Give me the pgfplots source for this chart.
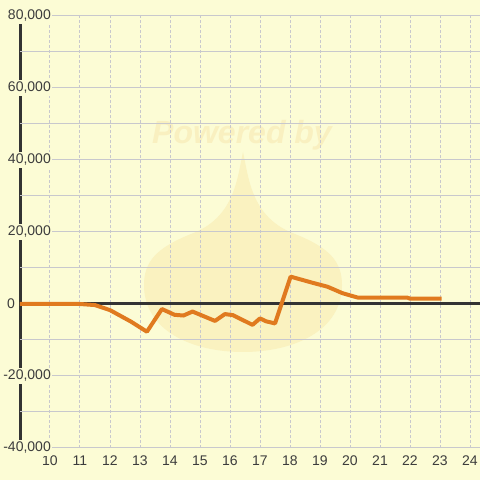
\documentclass[border=0pt]{standalone}
\usepackage{fontspec}
\setmainfont{Liberation Sans}
\usepackage{pgfplots}
\pgfplotsset{compat=1.18}
\definecolor{bg}{RGB}{252,252,213}
\definecolor{wm}{RGB}{250,242,192}
\definecolor{wmtext}{RGB}{249,240,192}
\definecolor{gridc}{RGB}{200,200,205}
\definecolor{axc}{RGB}{51,51,51}
\definecolor{txt}{RGB}{60,60,60}
\definecolor{orng}{RGB}{224,122,31}
\newcommand{\tf}{\fontsize{14}{16}\selectfont}
\begin{document}
\begin{tikzpicture}[x=1pt,y=1pt]
\fill[bg] (0,0) rectangle (480,480);
\useasboundingbox (0,0) rectangle (480,480);
\fill[wm] (243,328) .. controls (249,300) and (252,262) .. (295,246) .. controls (330,232) and (342,218) .. (342,195) .. controls (342,150) and (295,128) .. (243,128) .. controls (191,128) and (144,150) .. (144,195) .. controls (144,218) and (156,232) .. (191,246) .. controls (234,262) and (237,300) .. (243,328) -- cycle;
\node[font=\bfseries\itshape\fontsize{32}{34}\selectfont, text=wmtext] at (242,345) {Powered by};
\draw[axc, line width=3pt] (20,32) -- (20,464);
\begin{axis}[
  scale only axis, width=460pt, height=432pt,
  at={(20pt,32pt)}, anchor=south west,
  xmin=9, xmax=24.3333, ymin=-40000, ymax=80000,
  axis line style={draw=none},
  major tick length=0pt, minor tick length=0pt,
  scaled y ticks=false,
  xtick={10,11,12,13,14,15,16,17,18,19,20,21,22,23,24},
  xticklabels={{\tf 10},{\tf 11},{\tf 12},{\tf 13},{\tf 14},{\tf 15},{\tf 16},{\tf 17},{\tf 18},{\tf 19},{\tf 20},{\tf 21},{\tf 22},{\tf 23},{\tf 24}},
  ytick={-40000,-20000,20000,40000,60000,80000},
  yticklabels={{\tf -40,000},{\tf -20,000},{\tf 20,000},{\tf 40,000},{\tf 60,000},{\tf 80,000}},
  extra y ticks={0}, extra y tick labels={{\tf 0}},
  extra y tick style={yticklabel style={xshift=-36pt, fill=none}},
  minor ytick={-30000,-10000,10000,30000,50000,70000},
  xmajorgrids, ymajorgrids, yminorgrids,
  x grid style={gridc, line width=1pt, dash pattern=on 3pt off 2pt},
  y grid style={gridc, line width=1pt, solid},
  minor grid style={gridc, line width=1pt, solid},
  every tick label/.append style={text=txt},
  yticklabel style={anchor=east, inner xsep=1pt, inner ysep=2pt, fill=bg, xshift=32pt},
  xticklabel style={anchor=north, inner sep=0pt, yshift=-8pt},
]
\addplot[axc, line width=3pt, forget plot] coordinates {(9,0) (24.3333,0)};
\addplot[orng, line width=4pt, line join=round, mark=none] coordinates {
(9,0) (11,0) (11.5,-300) (12,-1700) (12.7,-4900) (13.23,-7700) (13.73,-1400)
(14.15,-3000) (14.45,-3200) (14.75,-2100) (15.5,-4700) (15.83,-2800) (16.1,-3100)
(16.75,-5800) (17,-4000) (17.2,-4800) (17.5,-5400) (18.02,7600) (18.75,5900)
(19.25,4800) (19.75,3000) (20.25,1800) (21.9,1800) (22.0,1500) (23.05,1500)
};
\end{axis}
\end{tikzpicture}
\end{document}
